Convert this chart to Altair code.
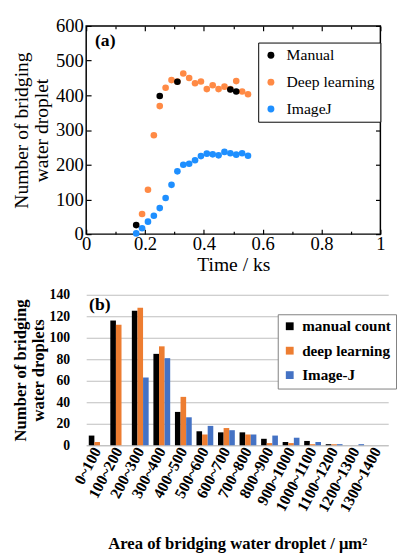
import altair as alt
import pandas as pd

# ---------------- Panel (a) data ----------------
time_manual = [0.17, 0.25, 0.31, 0.49, 0.51]
count_manual = [26, 398, 439, 417, 411]

time_dl = [0.19, 0.21, 0.23, 0.25, 0.27, 0.29, 0.31, 0.33, 0.35, 0.37,
           0.39, 0.41, 0.43, 0.45, 0.47, 0.49, 0.51, 0.53, 0.55]
count_dl = [58, 128, 285, 369, 422, 444, 440, 463, 450, 435,
            440, 418, 429, 418, 425, 418, 441, 411, 403]

time_ij = [0.17, 0.19, 0.21, 0.23, 0.25, 0.27, 0.29, 0.31, 0.33, 0.35,
           0.37, 0.39, 0.41, 0.43, 0.45, 0.47, 0.49, 0.51, 0.53, 0.55]
count_ij = [2, 17, 36, 53, 75, 104, 142, 181, 200, 203,
            213, 225, 232, 230, 227, 237, 233, 229, 233, 226]

series_a = ["Manual", "Deep learning", "ImageJ"]
colors_a = ["#000000", "#FF8A45", "#1E8FFF"]

x_major = [0, 0.2, 0.4, 0.6, 0.8, 1]
x_minor = [0.1, 0.3, 0.5, 0.7, 0.9]
y_major = [0, 100, 200, 300, 400, 500, 600]

# ---------------- Panel (b) data ----------------
bins = ["0~100", "100~200", "200~300", "300~400", "400~500", "500~600",
        "600~700", "700~800", "800~900", "900~1000", "1000~1100",
        "1100~1200", "1200~1300", "1300~1400"]
manual_b = [9, 116, 125, 85, 31, 13, 12, 12, 6, 3, 4, 1, 0, 0]
dl_b = [3, 112, 128, 92, 45, 10, 16, 10, 2, 2, 1, 1, 0, 0]
ij_b = [0, 0, 63, 81, 26, 18, 14, 10, 9, 7, 3, 1, 1, 0]
series_b = ["manual count", "deep learning", "Image-J"]
colors_b = ["#000000", "#ED7D31", "#4472C4"]
y_ticks_b = [0, 20, 40, 60, 80, 100, 120, 140]

FONT = "Liberation Serif"

rows = []
for t, c in zip(time_ij, count_ij):
    rows.append({"t": t, "n": c, "s": "ImageJ"})
for t, c in zip(time_dl, count_dl):
    rows.append({"t": t, "n": c, "s": "Deep learning"})
for t, c in zip(time_manual, count_manual):
    rows.append({"t": t, "n": c, "s": "Manual"})
df_a = pd.DataFrame(rows)

rows_b = []
for s, vals in zip(series_b, [manual_b, dl_b, ij_b]):
    for b, v in zip(bins, vals):
        rows_b.append({"bin": b, "series": s, "value": v})
df_b = pd.DataFrame(rows_b)

xs = alt.Scale(domain=[0, 1], nice=False, zero=False)
ys = alt.Scale(domain=[0, 600], nice=False)

tick_common = dict(domain=False, grid=False, tickColor="black", tickWidth=1.2,
                   labelFlush=False, labelOverlap=False)
hidden = dict(labels=False, title=None, minExtent=0, maxExtent=0)

base = alt.Chart(df_a)

pts = base.mark_circle(size=46, opacity=1).encode(
    x=alt.X("t:Q", scale=xs, axis=alt.Axis(
        orient="bottom", values=x_major, format="~g", offset=-5, tickSize=5,
        labelPadding=1, labelFont=FONT, labelFontSize=19, labelColor="black",
        title="Time / ks", titleFont=FONT, titleFontSize=20,
        titleFontWeight="normal", titleColor="black", titlePadding=1,
        minExtent=0, **tick_common)),
    y=alt.Y("n:Q", scale=ys, axis=alt.Axis(
        orient="left", values=y_major, offset=-5, tickSize=5, labelPadding=3,
        labelFont=FONT, labelFontSize=19, labelColor="black",
        title=["Number of bridging", "water droplet"], titleFont=FONT,
        titleFontSize=20, titleFontWeight="normal", titleColor="black",
        titleLineHeight=21, titlePadding=4, minExtent=0, **tick_common)),
    color=alt.Color("s:N", scale=alt.Scale(domain=series_a, range=colors_a),
                    legend=alt.Legend(
                        orient="none", legendX=176, legendY=17, title=None,
                        strokeColor="black", fillColor="white", padding=5,
                        labelFont=FONT, labelFontSize=16, labelColor="black",
                        symbolType="circle", symbolSize=50,
                        symbolStrokeWidth=0, rowPadding=11.5, labelOffset=8)),
)

ax_top = base.mark_circle(opacity=0).encode(
    x=alt.X("t:Q", scale=xs, axis=alt.Axis(
        orient="top", values=x_major, offset=-5, tickSize=5, **hidden, **tick_common)),
    y=alt.Y("n:Q", scale=ys, axis=alt.Axis(
        orient="right", values=y_major, offset=-5, tickSize=5, **hidden, **tick_common)),
)

ax_minor_b = base.mark_circle(opacity=0).encode(
    x=alt.X("t:Q", scale=xs, axis=alt.Axis(
        orient="bottom", values=x_minor, offset=-3, tickSize=3, **hidden, **tick_common)),
    y=alt.Y("n:Q", scale=ys, axis=None),
)

ax_minor_t = base.mark_circle(opacity=0).encode(
    x=alt.X("t:Q", scale=xs, axis=alt.Axis(
        orient="top", values=x_minor, offset=-3, tickSize=3, **hidden, **tick_common)),
    y=alt.Y("n:Q", scale=ys, axis=None),
)

label_a = alt.Chart(pd.DataFrame({"txt": ["(a)"]})).mark_text(
    font=FONT, fontSize=18, fontWeight="bold", align="left", baseline="middle",
    color="black").encode(text="txt:N", x=alt.value(9), y=alt.value(16))

top = alt.layer(ax_minor_b, ax_minor_t, ax_top, pts, label_a).resolve_axis(
    x="independent", y="independent").properties(
    width=301, height=213,
    view=alt.ViewBackground(stroke="black", strokeWidth=1.5))

# ---------------- Panel (b) ----------------
bars = alt.Chart(df_b).mark_bar().encode(
    x=alt.X("bin:N", sort=bins, scale=alt.Scale(paddingInner=0.22, paddingOuter=0.12),
            axis=alt.Axis(labelAngle=-62, labelFont=FONT, labelFontWeight="bold",
                          labelFontSize=16, labelColor="black", labelPadding=3,
                          ticks=False, domainColor="#BFBFBF", domainWidth=1.2,
                          title="Area of bridging water droplet / μm²",
                          titleFont=FONT, titleFontSize=17, titleFontWeight="bold",
                          titleColor="black", titlePadding=22)),
    xOffset=alt.XOffset("series:N", sort=series_b, scale=alt.Scale(paddingInner=0)),
    y=alt.Y("value:Q", scale=alt.Scale(domain=[0, 140], nice=False),
            axis=alt.Axis(values=y_ticks_b, grid=True, gridColor="#BFBFBF",
                          gridWidth=1.2, domain=False, ticks=False,
                          labelFont=FONT, labelFontWeight="bold", labelFontSize=14,
                          labelColor="black", labelPadding=17,
                          title=["Number of bridging", "water droplets"],
                          titleFont=FONT, titleFontSize=17, titleFontWeight="bold",
                          titleColor="black", titleLineHeight=18, titlePadding=2)),
    color=alt.Color("series:N", scale=alt.Scale(domain=series_b, range=colors_b),
                    legend=alt.Legend(
                        orient="none", legendX=196, legendY=20, title=None,
                        strokeColor="#7F7F7F", fillColor="white", padding=4.5,
                        labelFont=FONT, labelFontSize=15.5, labelFontWeight="bold",
                        labelColor="black", symbolType="square", symbolSize=64,
                        symbolStrokeWidth=0, rowPadding=8, labelOffset=5)),
)

label_b = alt.Chart(pd.DataFrame({"txt": ["(b)"]})).mark_text(
    font=FONT, fontSize=18, fontWeight="bold", align="left", baseline="middle",
    color="black").encode(text="txt:N", x=alt.value(3), y=alt.value(11))

bottom = alt.layer(bars, label_b).properties(
    width=309, height=154, view=alt.ViewBackground(stroke=None))

chart = alt.vconcat(top, bottom, spacing=13).resolve_scale(
    color="independent").properties(
    padding={"left": 2, "top": 2, "right": 0, "bottom": 0}
).configure(font=FONT).configure_axis(
    labelFont=FONT, titleFont=FONT).configure_legend(
    labelFont=FONT, titleFont=FONT).configure_text(font=FONT)

chart.save("out.html", embed_options={"renderer": "svg", "actions": False})
